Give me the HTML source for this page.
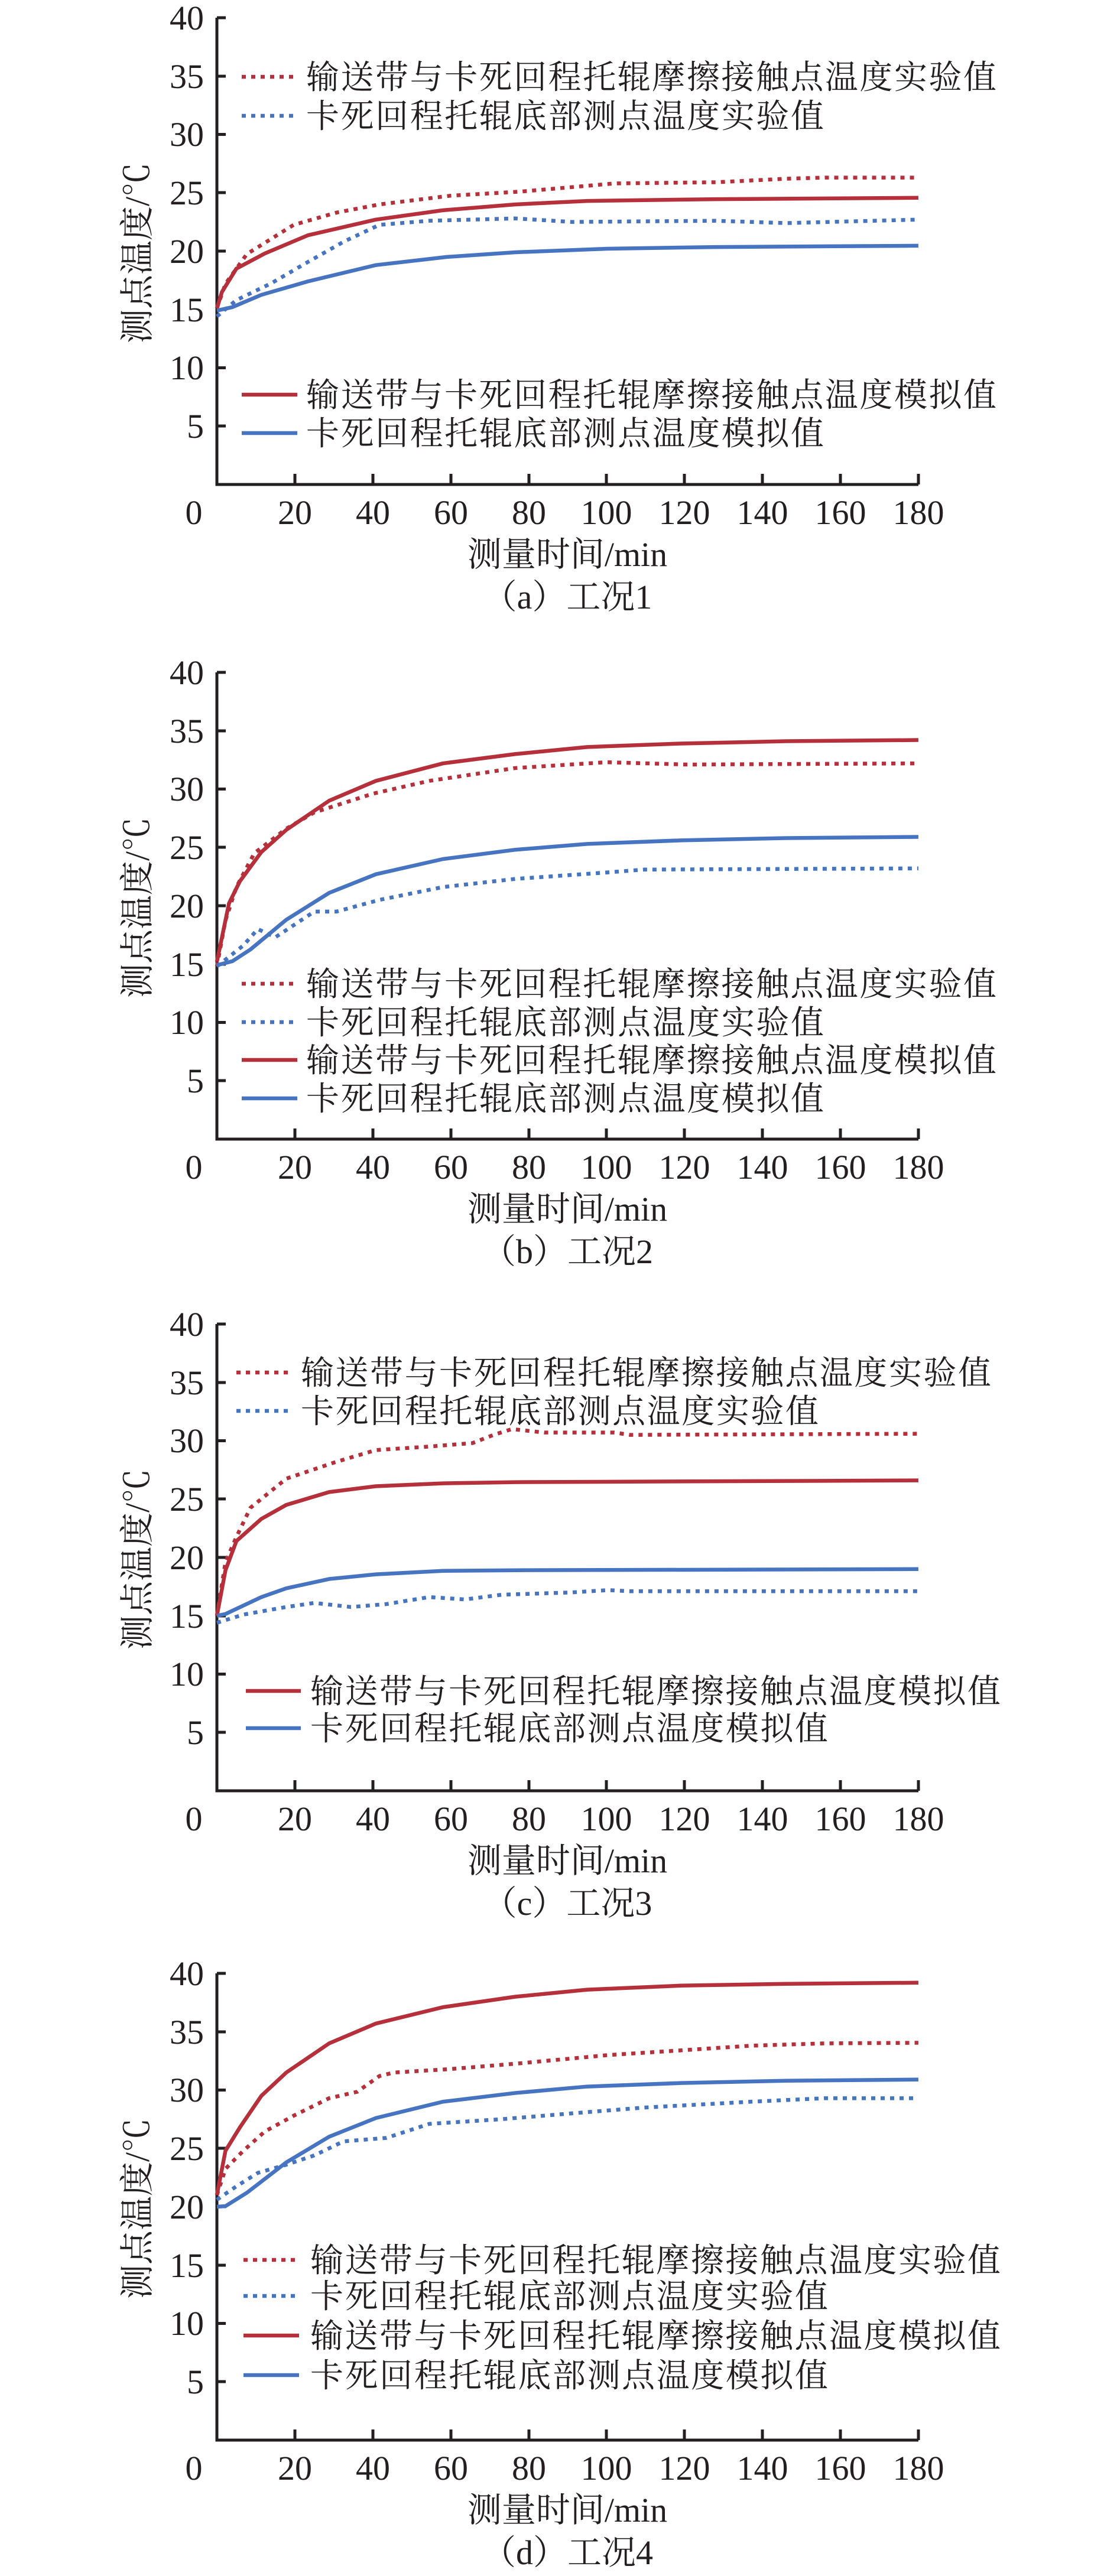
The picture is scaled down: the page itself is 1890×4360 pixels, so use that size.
<!DOCTYPE html>
<html><head><meta charset="utf-8"><style>
html,body{margin:0;padding:0;background:#fff}
svg{display:block}
text{font-family:"Liberation Serif","Noto Serif CJK SC","Noto Sans CJK SC",serif;fill:#231f20}
.tk{font-size:58px}
.lg{font-size:56px}
.d{fill:none;vector-effect:non-scaling-stroke;stroke-width:6.5;stroke-linejoin:round}
.dot{stroke-dasharray:7 9}
.r{stroke:#b5303a}.b{stroke:#4674c1}
.ax{stroke:#231f20;stroke-width:5;fill:none}
</style></head><body>
<svg width="1890" height="4360" viewBox="0 0 1890 4360" xmlns="http://www.w3.org/2000/svg">
<defs>
<g id="axes">
<path class="ax" d="M367,30 V820 H1554"/>
<path class="ax" d="M367,30 h15 M367,129 h15 M367,227.5 h15 M367,326 h15 M367,425 h15 M367,524 h15 M367,622.5 h15 M367,721 h15"/>
<path class="ax" d="M499,820 v-18 M631,820 v-18 M763,820 v-18 M895,820 v-18 M1026,820 v-18 M1158,820 v-18 M1290,820 v-18 M1422,820 v-18 M1554,820 v-18"/>
<g class="tk" text-anchor="end">
<text x="345" y="50">40</text><text x="345" y="149">35</text><text x="345" y="247">30</text><text x="345" y="346">25</text><text x="345" y="445">20</text><text x="345" y="544">15</text><text x="345" y="642">10</text><text x="345" y="741">5</text>
</g>
<g class="tk" text-anchor="middle">
<text x="328" y="887">0</text><text x="499" y="887">20</text><text x="631" y="887">40</text><text x="763" y="887">60</text><text x="895" y="887">80</text><text x="1026" y="887">100</text><text x="1158" y="887">120</text><text x="1290" y="887">140</text><text x="1422" y="887">160</text><text x="1554" y="887">180</text>
</g>
<text x="960" y="958" text-anchor="middle" style="font-size:58px">测量时间/min</text>
<text transform="translate(252,428) rotate(-90)" text-anchor="middle" style="font-size:58px">测点温度/℃</text>
</g>
</defs>

<!-- Panel a -->
<g transform="translate(0,0)">
<use href="#axes"/>
<g transform="translate(367,820) scale(6.594,-19.75)">
<polyline class="d dot r" points="0,15.1 2.2,17.2 7.7,19.75 19.7,22.25 30.7,23.3 41.7,24 60,24.75 78,25.1 102,25.8 128,25.9 146,26.2 156,26.3 180,26.3"/>
<polyline class="d r" points="0,15.1 1.3,16.5 5,18.5 12.3,19.8 23.3,21.35 40.8,22.7 58,23.5 76.6,24 95,24.3 128,24.45 180,24.57"/>
<polyline class="d dot b" points="0,14.4 5,15.8 14,17.25 23,19 32.5,20.8 41.7,22.25 54.5,22.6 76.6,22.8 91,22.5 128,22.6 146,22.4 180,22.7"/>
<polyline class="d b" points="0,14.9 4,15.2 11.4,16.25 23.3,17.4 40.8,18.8 59,19.5 76.6,19.9 100,20.2 128,20.35 180,20.46"/>
</g>
<path class="d dot r" d="M409,130 H503"/><path class="d dot b" d="M409,196 H503"/>
<path class="d r" d="M409,668 H503"/><path class="d b" d="M409,733 H503"/>
<g class="lg">
<text x="518" y="150" textLength="1168">输送带与卡死回程托辊摩擦接触点温度实验值</text>
<text x="518" y="216" textLength="876">卡死回程托辊底部测点温度实验值</text>
<text x="518" y="688" textLength="1168">输送带与卡死回程托辊摩擦接触点温度模拟值</text>
<text x="518" y="753" textLength="876">卡死回程托辊底部测点温度模拟值</text>
</g>
<text x="960" y="1030" text-anchor="middle" style="font-size:58px">（a）工况1</text>
</g>

<!-- Panel b -->
<g transform="translate(0,1108)">
<use href="#axes"/>
<g transform="translate(367,820) scale(6.594,-19.75)">
<polyline class="d dot r" points="0,14.8 2.2,18.75 5,21.6 9.6,24.5 17.8,26.6 25,28 40,29.6 54.5,30.7 76.6,31.8 100,32.3 120.7,32.1 180,32.2"/>
<polyline class="d r" points="0,15.2 3.1,20.2 5.9,22.1 11.4,24.6 17.8,26.5 28.8,29 40.8,30.7 58,32.2 76.6,33 95,33.6 119,33.9 146,34.1 180,34.2"/>
<polyline class="d dot b" points="0,14.8 6.8,16.6 10.5,18 15,17.3 25,19.5 30.7,19.5 41.7,20.5 58,21.6 76.6,22.3 100,22.85 109.7,23.1 180,23.2"/>
<polyline class="d b" points="0,14.9 4,15.25 8.6,16.25 17.8,18.8 28.8,21.1 40.8,22.7 58,24 76.6,24.8 95,25.3 119,25.6 146,25.8 180,25.9"/>
</g>
<path class="d dot r" d="M409,557 H503"/><path class="d dot b" d="M409,622 H503"/>
<path class="d r" d="M409,686 H503"/><path class="d b" d="M409,751 H503"/>
<g class="lg">
<text x="518" y="577" textLength="1168">输送带与卡死回程托辊摩擦接触点温度实验值</text>
<text x="518" y="642" textLength="876">卡死回程托辊底部测点温度实验值</text>
<text x="518" y="706" textLength="1168">输送带与卡死回程托辊摩擦接触点温度模拟值</text>
<text x="518" y="771" textLength="876">卡死回程托辊底部测点温度模拟值</text>
</g>
<text x="960" y="1030" text-anchor="middle" style="font-size:58px">（b）工况2</text>
</g>

<!-- Panel c -->
<g transform="translate(0,2211)">
<use href="#axes"/>
<g transform="translate(367,820) scale(6.594,-19.75)">
<polyline class="d dot r" points="0,15 2.2,19.6 5,21.75 8.6,24.25 17.8,26.75 30.7,28.2 40.8,29.2 54.5,29.5 65.6,29.8 71,30.5 75.7,31 84,30.7 102,30.7 106,30.5 180,30.6"/>
<polyline class="d r" points="0,15 2.2,18.9 5,21.4 11.4,23.3 17.8,24.5 28.8,25.6 40.8,26.1 58,26.35 76.6,26.45 180,26.6"/>
<polyline class="d dot b" points="0,14.4 6.8,15.1 17.8,15.75 25,16.1 34.4,15.75 43.5,16 54.5,16.6 63.7,16.4 73,16.8 91,17 100.5,17.2 106,17.1 180,17.1"/>
<polyline class="d b" points="0,15 2.2,15.15 11.4,16.6 17.8,17.35 28.8,18.15 40.8,18.55 58,18.85 76.6,18.9 180,19"/>
</g>
<path class="d dot r" d="M400,112 H493"/><path class="d dot b" d="M400,177 H493"/>
<path class="d r" d="M416,651 H509"/><path class="d b" d="M416,714 H509"/>
<g class="lg">
<text x="509" y="132" textLength="1168">输送带与卡死回程托辊摩擦接触点温度实验值</text>
<text x="509" y="197" textLength="876">卡死回程托辊底部测点温度实验值</text>
<text x="525" y="671" textLength="1168">输送带与卡死回程托辊摩擦接触点温度模拟值</text>
<text x="525" y="734" textLength="876">卡死回程托辊底部测点温度模拟值</text>
</g>
<text x="960" y="1030" text-anchor="middle" style="font-size:58px">（c）工况3</text>
</g>

<!-- Panel d -->
<g transform="translate(0,3310)">
<use href="#axes"/>
<g transform="translate(367,820) scale(6.594,-19.75)">
<polyline class="d dot r" points="0,21 2.2,23.25 6.8,24.8 12.3,26.45 19.7,27.8 28.8,29.3 36,29.85 41.7,31.2 45.4,31.5 60,31.8 78,32.3 100.5,33 119,33.4 137,33.8 156,34 180,34.05"/>
<polyline class="d r" points="0,21 2.2,24.8 5.9,26.8 11.4,29.5 17.8,31.5 28.8,34 40.8,35.7 58,37.1 76.6,38 95,38.6 119,38.95 146,39.1 180,39.2"/>
<polyline class="d dot b" points="0,20.6 5,21.75 10.5,22.9 17.8,23.6 25,24.4 32.5,25.6 43.5,25.9 54.5,27.1 73,27.5 91,28 109.7,28.5 137,29 156,29.3 180,29.3"/>
<polyline class="d b" points="0,20 2.2,20.05 7.7,21.2 17.8,23.8 28.8,26 40.8,27.6 58,29 76.6,29.75 95,30.3 119,30.6 146,30.8 180,30.9"/>
</g>
<path class="d dot r" d="M412,515 H506"/><path class="d dot b" d="M412,576 H506"/>
<path class="d r" d="M412,643 H506"/><path class="d b" d="M412,710 H506"/>
<g class="lg">
<text x="525" y="535" textLength="1168">输送带与卡死回程托辊摩擦接触点温度实验值</text>
<text x="525" y="596" textLength="876">卡死回程托辊底部测点温度实验值</text>
<text x="525" y="663" textLength="1168">输送带与卡死回程托辊摩擦接触点温度模拟值</text>
<text x="525" y="730" textLength="876">卡死回程托辊底部测点温度模拟值</text>
</g>
<text x="960" y="1030" text-anchor="middle" style="font-size:58px">（d）工况4</text>
</g>
</svg>
</body></html>
